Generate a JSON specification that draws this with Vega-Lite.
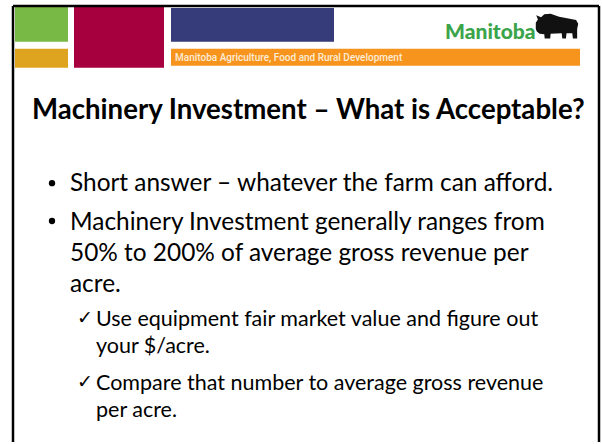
{
  "$schema": "https://vega.github.io/schema/vega-lite/v6.json",
  "width": 602,
  "height": 444,
  "padding": 0,
  "autosize": {"type": "fit", "contains": "padding"},
  "background": "white",
  "config": {"view": {"stroke": null}},
  "datasets": {
    "blocks": [
      {"part": "green", "x": 15, "x2": 68, "y": 7, "y2": 42},
      {"part": "gold", "x": 15, "x2": 68, "y": 49, "y2": 68},
      {"part": "crimson", "x": 74, "x2": 164, "y": 6, "y2": 68},
      {"part": "navy", "x": 171, "x2": 334, "y": 8, "y2": 42},
      {"part": "orange", "x": 171, "x2": 580, "y": 49, "y2": 66}
    ],
    "frame": [
      {"side": "left", "x": 13, "x2": 13, "y": 6, "y2": 444},
      {"side": "top", "x": 13, "x2": 599, "y": 6, "y2": 6},
      {"side": "right", "x": 599, "x2": 599, "y": 6, "y2": 444}
    ],
    "lines": [
      {"kind": "band", "x": 175, "y": 61.5, "text": "Manitoba Agriculture, Food and Rural Development"},
      {"kind": "logo", "x": 445, "y": 39, "text": "Manitoba"},
      {"kind": "title", "x": 32, "y": 120, "text": "Machinery Investment – What is Acceptable?"},
      {"kind": "bullet", "x": 70, "y": 192, "text": "Short answer – whatever the farm can afford."},
      {"kind": "bullet", "x": 70, "y": 231, "text": "Machinery Investment generally ranges from"},
      {"kind": "bullet", "x": 70, "y": 262, "text": "50% to 200% of average gross revenue per"},
      {"kind": "bullet", "x": 70, "y": 293, "text": "acre."},
      {"kind": "sub", "x": 96, "y": 327, "text": "Use equipment fair market value and figure out"},
      {"kind": "sub", "x": 96, "y": 355, "text": "your $/acre."},
      {"kind": "sub", "x": 96, "y": 392, "text": "Compare that number to average gross revenue"},
      {"kind": "sub", "x": 96, "y": 419, "text": "per acre."},
      {"kind": "check", "x": 77, "y": 325, "text": "✓"},
      {"kind": "check", "x": 77, "y": 390, "text": "✓"}
    ],
    "dots": [
      {"item": 1, "x": 52, "y": 184},
      {"item": 2, "x": 52, "y": 222}
    ],
    "bison": [
      {"name": "bison", "x": 557, "y": 27}
    ]
  },
  "layer": [
    {
      "data": {"name": "blocks"},
      "mark": {"type": "rect"},
      "encoding": {
        "x": {"field": "x", "type": "quantitative", "scale": {"domain": [0, 602], "nice": false, "zero": false}, "axis": null},
        "x2": {"field": "x2"},
        "y": {"field": "y", "type": "quantitative", "scale": {"domain": [0, 444], "nice": false, "zero": false, "reverse": true}, "axis": null},
        "y2": {"field": "y2"},
        "color": {
          "field": "part", "type": "nominal", "legend": null,
          "scale": {"domain": ["green", "gold", "crimson", "navy", "orange"], "range": ["#78b845", "#dea31f", "#a6003f", "#363b79", "#f7941e"]}
        }
      }
    },
    {
      "data": {"name": "frame"},
      "mark": {"type": "rule", "color": "#000000", "strokeWidth": 2.5},
      "encoding": {
        "x": {"field": "x", "type": "quantitative"},
        "x2": {"field": "x2"},
        "y": {"field": "y", "type": "quantitative"},
        "y2": {"field": "y2"}
      }
    },
    {
      "data": {"name": "lines"},
      "transform": [{"filter": "datum.kind === 'band'"}],
      "mark": {"type": "text", "align": "left", "baseline": "alphabetic", "font": "Roboto", "fontWeight": 500, "fontSize": 10, "color": "#fdecd6"},
      "encoding": {
        "x": {"field": "x", "type": "quantitative"},
        "y": {"field": "y", "type": "quantitative"},
        "text": {"field": "text"}
      }
    },
    {
      "data": {"name": "lines"},
      "transform": [{"filter": "datum.kind === 'logo'"}],
      "mark": {"type": "text", "align": "left", "baseline": "alphabetic", "font": "Lato", "fontWeight": 900, "fontSize": 21, "color": "#3aa44a"},
      "encoding": {
        "x": {"field": "x", "type": "quantitative"},
        "y": {"field": "y", "type": "quantitative"},
        "text": {"field": "text"}
      }
    },
    {
      "data": {"name": "bison"},
      "mark": {"type": "point", "filled": true, "color": "#111111", "opacity": 1, "size": 1800,
        "shape": "M -1 0.1 L -1 -0.2 L -0.9 -0.35 L -0.98 -0.55 L -0.75 -0.45 L -0.6 -0.6 L -0.3 -0.62 L 0.1 -0.48 L 0.6 -0.38 L 0.9 -0.32 L 1 -0.15 L 0.95 0.1 L 0.95 0.55 L 0.75 0.55 L 0.72 0.3 L 0.45 0.3 L 0.42 0.55 L 0.25 0.55 L 0.22 0.3 L -0.3 0.32 L -0.32 0.55 L -0.58 0.55 L -0.6 0.35 L -0.82 0.32 L -0.95 0.22 Z"},
      "encoding": {
        "x": {"field": "x", "type": "quantitative"},
        "y": {"field": "y", "type": "quantitative"}
      }
    },
    {
      "data": {"name": "lines"},
      "transform": [{"filter": "datum.kind === 'title'"}],
      "mark": {"type": "text", "align": "left", "baseline": "alphabetic", "font": "Lato", "fontWeight": "bold", "fontSize": 27.6, "color": "#000000"},
      "encoding": {
        "x": {"field": "x", "type": "quantitative"},
        "y": {"field": "y", "type": "quantitative"},
        "text": {"field": "text"}
      }
    },
    {
      "data": {"name": "lines"},
      "transform": [{"filter": "datum.kind === 'bullet'"}],
      "mark": {"type": "text", "align": "left", "baseline": "alphabetic", "font": "Lato", "fontSize": 24.4, "color": "#000000"},
      "encoding": {
        "x": {"field": "x", "type": "quantitative"},
        "y": {"field": "y", "type": "quantitative"},
        "text": {"field": "text"}
      }
    },
    {
      "data": {"name": "lines"},
      "transform": [{"filter": "datum.kind === 'sub'"}],
      "mark": {"type": "text", "align": "left", "baseline": "alphabetic", "font": "Lato", "fontSize": 21.5, "color": "#000000"},
      "encoding": {
        "x": {"field": "x", "type": "quantitative"},
        "y": {"field": "y", "type": "quantitative"},
        "text": {"field": "text"}
      }
    },
    {
      "data": {"name": "lines"},
      "transform": [{"filter": "datum.kind === 'check'"}],
      "mark": {"type": "text", "align": "left", "baseline": "alphabetic", "font": "DejaVu Sans", "fontSize": 19, "color": "#000000"},
      "encoding": {
        "x": {"field": "x", "type": "quantitative"},
        "y": {"field": "y", "type": "quantitative"},
        "text": {"field": "text"}
      }
    },
    {
      "data": {"name": "dots"},
      "mark": {"type": "point", "shape": "circle", "filled": true, "color": "#000000", "opacity": 1, "size": 40},
      "encoding": {
        "x": {"field": "x", "type": "quantitative"},
        "y": {"field": "y", "type": "quantitative"}
      }
    }
  ]
}
